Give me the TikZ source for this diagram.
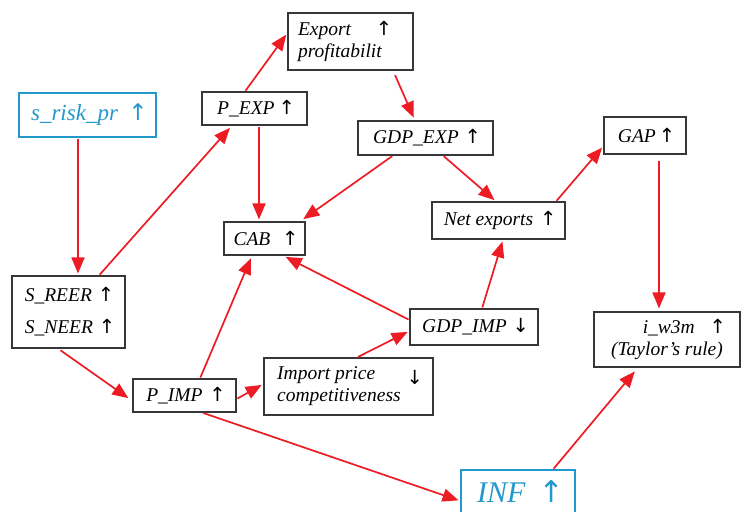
\documentclass[tikz,border=0pt]{standalone}
\usepackage{fontspec}
\setmainfont{Liberation Serif}
\newfontfamily\arrowfont{DejaVu Sans}
\usetikzlibrary{arrows.meta,calc}
\definecolor{cred}{RGB}{237,28,36}
\definecolor{cblue}{RGB}{35,152,205}
\definecolor{cbox}{RGB}{55,55,55}
\newcommand{\upar}{\makebox[0.52em]{\arrowfont\itshape\scalebox{1.0}{↑}}}
\newcommand{\dnar}{\makebox[0.52em]{\arrowfont\itshape\scalebox{1.0}{↓}}}
\begin{document}
\begin{tikzpicture}[x=1pt,y=-1pt,
  box/.style={draw=cbox,line width=1.1pt,inner sep=0pt,fill=white,font=\fontsize{19.5}{22}\selectfont\itshape},
  bluebox/.style={draw=cblue,line width=1.1pt,inner sep=0pt,fill=white,text=cblue},
  conn/.style={draw=cred,line width=1.7pt,-{Triangle[length=16pt,width=13pt]},shorten <=1pt,shorten >=2pt}]
\useasboundingbox (0,0) rectangle (741,511);

\node[bluebox,minimum width=137pt,minimum height=44pt,font=\fontsize{23}{26}\selectfont\itshape] (srisk) at (87.5,115) {s\_risk\_pr\hspace{14pt}\upar};
\node[box,minimum width=105pt,minimum height=33pt] (pexp) at (254.5,108.5) {P\_EXP\hspace{7pt}\upar};
\node[box,minimum width=125pt,minimum height=57pt,text width=105pt,align=left] (export) at (350.5,41.5) {Export\hspace{28pt}\upar\\profitabilit};
\node[box,minimum width=135pt,minimum height=34pt] (gdpexp) at (425.5,138) {GDP\_EXP\hspace{9pt}\upar};
\node[box,minimum width=82pt,minimum height=37pt] (gap) at (645,135.5) {GAP\hspace{6pt}\upar};
\node[box,minimum width=81pt,minimum height=33pt] (cab) at (264.5,238.5) {CAB\hspace{15pt}\upar};
\node[box,minimum width=133pt,minimum height=37pt] (net) at (498.5,220.5) {Net exports\hspace{10pt}\upar};
\node[box,minimum width=113pt,minimum height=72pt,align=left] (sreer) at (68.5,312) {S\_REER\hspace{9pt}\upar\\[10pt]S\_NEER\hspace{9pt}\upar};
\node[box,minimum width=128pt,minimum height=36pt] (gdpimp) at (474,327) {GDP\_IMP\hspace{9pt}\dnar};
\node[box,minimum width=146pt,minimum height=55pt,align=right] (iw3m) at (667,339.5) {i\_w3m\hspace{18pt}\upar\\(Taylor’s rule)};
\node[box,minimum width=103pt,minimum height=33pt] (pimp) at (184.5,395.5) {P\_IMP\hspace{10pt}\upar};
\node[box,minimum width=169pt,minimum height=57pt] (imppr) at (348.5,386.5) {\begin{tabular}{@{}l@{}}Import price\\competitiveness\end{tabular}\hspace{9pt}\raisebox{7pt}{\dnar}};
\node[bluebox,minimum width=114pt,minimum height=44pt,font=\fontsize{30}{34}\selectfont\itshape] (inf) at (518,492) {INF\hspace{18pt}\upar};

\draw[conn] (srisk.south -| 78,0) -- (sreer.north -| 78,0);
\draw[conn,shorten >=3pt] (sreer.north -| 99,0) -- (pexp.south -| 232,0);
\draw[conn] (pexp.north -| 245,0) -- (export.west |- 0,33);
\draw[conn] (pexp.south -| 259,0) -- (cab.north -| 259,0);
\draw[conn,shorten <=5pt,shorten >=3pt] (export.south -| 393,0) -- (gdpexp.north -| 415,0);
\draw[conn,shorten >=4pt] (gdpexp.south -| 393,0) -- (cab.north -| 300,0);
\draw[conn] (gdpexp.south -| 443,0) -- (net.north -| 496,0);
\draw[conn] (net.north -| 556,0) -- (gap.west |- 0,146);
\draw[conn,shorten <=6pt,shorten >=3pt] (gap.south -| 659,0) -- (iw3m.north -| 659,0);
\draw[conn] (gdpimp.north -| 482,0) -- (net.south -| 503,0);
\draw[conn,shorten >=3pt] (gdpimp.west |- 0,320) -- (cab.south -| 283,0);
\draw[conn,shorten >=3pt] (pimp.north -| 200,0) -- (cab.south -| 252,0);
\draw[conn,shorten <=3pt,shorten >=5pt] (sreer.south -| 58,0) -- (pimp.west |- 0,401);
\draw[conn] (pimp.east |- 0,399) -- (imppr.west |- 0,384);
\draw[conn] (imppr.north -| 357,0) -- (gdpimp.west |- 0,331);
\draw[conn] (pimp.south -| 202,0) -- (inf.west |- 0,501);
\draw[conn,shorten >=5pt] (inf.north -| 553,0) -- (iw3m.south -| 638,0);
\end{tikzpicture}
\end{document}
